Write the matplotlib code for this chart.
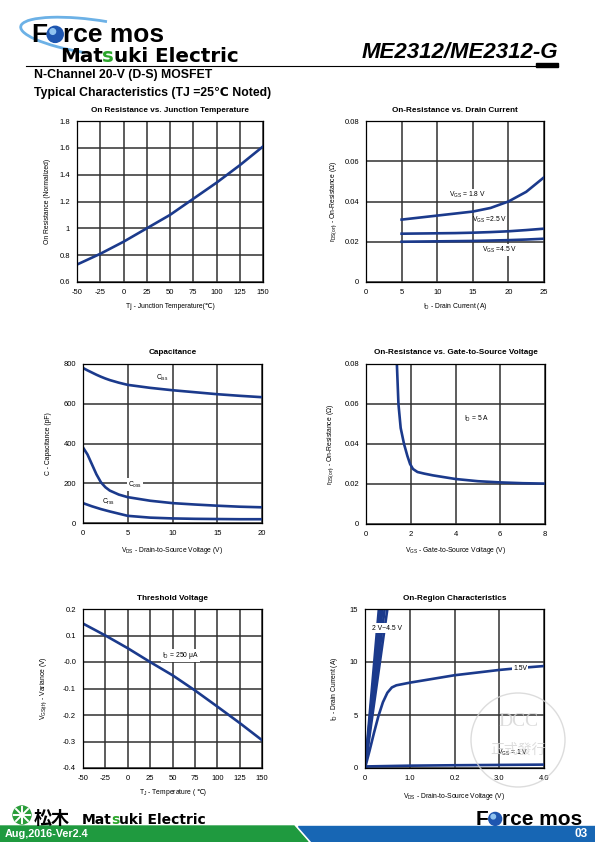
import matplotlib
matplotlib.use("Agg")
import matplotlib.pyplot as plt
from matplotlib.patches import Circle, Polygon, Arc, Rectangle

plt.rcParams['font.family'] = ['Liberation Sans', 'DejaVu Sans']
plt.rcParams['mathtext.fontset'] = 'custom'
plt.rcParams['mathtext.rm'] = 'Liberation Sans'
plt.rcParams['mathtext.it'] = 'Liberation Sans:italic'
plt.rcParams['mathtext.bf'] = 'Liberation Sans:bold'
plt.rcParams['axes.unicode_minus'] = False

W, H = 595, 842
NAVY = '#1b3a8c'
GRID = '#303030'
GREEN = '#1f9a3f'
BLUE = '#1766b4'

# --- datos leidos de la hoja ---
# 1) On resistance vs junction temperature
tj = [-50, -25, 0, 25, 50, 75, 100, 125, 150]
rn_tj = [0.73, 0.81, 0.90, 1.00, 1.10, 1.22, 1.34, 1.47, 1.61]

# 2) On-resistance vs drain current
id_a = [5, 7.5, 10, 12.5, 15, 17.5, 20, 22.5, 25]
rds_18 = [0.031, 0.032, 0.033, 0.034, 0.035, 0.0368, 0.040, 0.0448, 0.052]
rds_25 = [0.024, 0.0241, 0.0242, 0.0243, 0.0245, 0.0248, 0.0252, 0.0258, 0.0265]
rds_45 = [0.020, 0.0201, 0.0202, 0.0203, 0.0204, 0.0206, 0.0208, 0.0211, 0.0215]

# 3) Capacitance
vds_c = [0, 0.5, 1, 1.5, 2, 2.5, 3, 4, 5, 7.5, 10, 12.5, 15, 17.5, 20]
ciss = [780, 768, 757, 746, 736, 727, 719, 706, 695, 680, 668, 658, 648, 640, 633]
coss = [380, 345, 295, 245, 205, 180, 163, 143, 130, 112, 100, 93, 87, 82, 79]
crss = [100, 92, 84, 77, 70, 64, 58, 47, 36, 27, 23, 21, 20, 19, 19]

# 4) On-resistance vs gate-to-source voltage
vgs = [1.36, 1.38, 1.45, 1.55, 1.70, 1.85, 1.97, 2.1, 2.3, 2.6, 3.0, 4, 5, 6, 7, 8]
rds_vgs = [0.085, 0.080, 0.060, 0.048, 0.040, 0.034, 0.030, 0.0275, 0.026,
           0.0252, 0.0243, 0.0225, 0.0214, 0.0208, 0.0204, 0.0202]

# 5) Threshold voltage
tj_th = [-50, -25, 0, 25, 50, 75, 100, 125, 150]
vth = [0.145, 0.10, 0.052, 0.0, -0.05, -0.107, -0.168, -0.23, -0.295]

# 6) On-region characteristics
vds_band = [0.31, 0.35, 0.39, 0.44, 0.50]     # Vds at 15 A, VGS 4.5 .. 2 V
id_band = [0, 15]
vds_15 = [0, 0.1, 0.2, 0.3, 0.4, 0.5, 0.6, 0.7, 1.0, 1.5, 2.0, 2.5, 3.0, 3.5, 4.0]
id_15 = [0, 1.6, 3.3, 4.9, 6.2, 7.1, 7.6, 7.8, 8.05, 8.4, 8.75, 9.0, 9.25, 9.45, 9.62]
vds_1 = [0, 0.05, 1, 2, 3, 4]
id_1 = [0, 0.15, 0.22, 0.26, 0.29, 0.32]

fig = plt.figure(figsize=(W / 100, H / 100), dpi=100)
bg = fig.add_axes([0, 0, 1, 1])
bg.set_xlim(0, W)
bg.set_ylim(H, 0)
bg.axis('off')
renderer = fig.canvas.get_renderer()


def chain(x, y, parts, size, gap=0.0, **kw):
    """Texto en piezas consecutivas (para colorear letras sueltas)."""
    boxes = []
    for s, c in parts:
        t = bg.text(x, y, s, fontsize=size, color=c, va='baseline', ha='left', **kw)
        bb = t.get_window_extent(renderer)
        boxes.append((x, bb.width, bb.height))
        x += bb.width + gap
    return boxes


def chain_center(xc, y, parts, size):
    """Piezas de texto centradas en xc (mathtext + texto normal)."""
    texts = [bg.text(0, y, s, fontsize=size, va='center', ha='left') for s in parts]
    widths = [t.get_window_extent(renderer).width for t in texts]
    x = xc - sum(widths) / 2
    for t, w in zip(texts, widths):
        t.set_x(x)
        x += w


def logo_force(x, y, size):
    b = chain(x, y, [("F", "black"), ("o", "white"), ("rce mos", "black")], size,
              fontweight='bold')
    ox, ow, oh = b[1]
    r = ow * 0.5
    bg.add_patch(Circle((ox + ow / 2, y - r * 0.95), r, color='#1e56b0', zorder=3))
    bg.add_patch(Circle((ox + ow / 2 - r * 0.3, y - r * 1.3), r * 0.35,
                        color='#8fc3f0', zorder=4))


matsuki = [("Mat", "black"), ("s", "#2aa52a"), ("uki Electric", "black")]

# --- cabecera ---
bg.add_patch(Arc((95, 37), 150, 34, angle=8, theta1=115, theta2=300,
                 color='#6cb1e6', lw=2.0))
logo_force(31, 42, 19)
chain(60, 62, matsuki, 14.3, gap=-0.5, fontweight='bold', family=['DejaVu Sans'])
bg.plot([26, 558], [66, 66], color='black', lw=0.8)
bg.text(558, 58, "ME2312/ME2312-G", ha='right', va='baseline', fontsize=16,
        fontweight='bold', fontstyle='italic')
bg.add_patch(Rectangle((536, 63), 22, 4, color='black'))
bg.text(34, 75, "N-Channel 20-V (D-S) MOSFET", fontsize=8.8, fontweight='bold', va='center')
bg.text(34, 93, "Typical Characteristics (TJ =25\u2103 Noted)", fontsize=8.8,
        fontweight='bold', va='center')

# --- pie de pagina ---
bg.add_patch(Polygon([(0, 826), (294, 826), (308, 842), (0, 842)], color=GREEN))
bg.add_patch(Polygon([(298, 826), (595, 826), (595, 842), (312, 842)], color=BLUE))
bg.text(5, 834, "Aug,2016-Ver2.4", color='white', fontsize=7.8, fontweight='bold', va='center')
bg.text(588, 834, "03", color='white', fontsize=8.5, fontweight='bold', va='center', ha='right')
logo_force(476, 825, 15)
bg.add_patch(Circle((22, 815), 9, color='#2a9d3a'))
for dx, dy in [(8, 0), (0, 8), (6, 6), (6, -6)]:
    bg.plot([22 - dx, 22 + dx], [815 - dy, 815 + dy], color='white', lw=1.4)
bg.text(34, 824, "松木", family=['Noto Sans CJK JP'], fontsize=13, fontweight='bold', va='baseline')
chain(82, 824, matsuki, 10, gap=-0.4, fontweight='bold', family=['DejaVu Sans'])

TS = 5.5   # tick labels
LS = 4.9   # axis labels


def panel(x0, y0, x1, y1, title, xlabel, ylabel, xdy, ydx):
    ax = fig.add_axes([x0 / W, 1 - y1 / H, (x1 - x0) / W, (y1 - y0) / H])
    ax.grid(True, color=GRID, lw=1.1)
    ax.set_axisbelow(True)
    ax.tick_params(length=0, labelsize=TS, pad=5)
    for s in ax.spines.values():
        s.set_linewidth(0.9)
    w, h = x1 - x0, y1 - y0
    ax.text(0.5, 1 + 11 / h, title, transform=ax.transAxes, ha='center', va='center',
            fontsize=5.9, fontweight='bold')
    if xlabel is not None:
        ax.text(0.5, -xdy / h, xlabel, transform=ax.transAxes, ha='center', va='center',
                fontsize=LS)
    ax.text(-ydx / w, 0.5, ylabel, transform=ax.transAxes, ha='center', va='center',
            rotation=90, fontsize=LS)
    return ax


box = dict(facecolor='white', edgecolor='none', pad=0.8)
lw = 1.9

# 1
ax = panel(77, 121, 263, 282, "On Resistance vs. Junction Temperature",
           "Tj - Junction Temperature(\u2103)", "On Resistance (Normalized)", 25, 30)
ax.plot(tj, rn_tj, color=NAVY, lw=lw)
ax.set_xlim(-50, 150)
ax.set_ylim(0.6, 1.8)
ax.set_xticks(range(-50, 151, 25))
ax.set_yticks([0.6, 0.8, 1.0, 1.2, 1.4, 1.6, 1.8])
ax.set_yticklabels(['0.6', '0.8', '1', '1.2', '1.4', '1.6', '1.8'])

# 2
ax = panel(366, 121, 544, 282, "On-Resistance vs. Drain Current",
           r"I$_{\mathregular{D}}$ - Drain Current (A)",
           r"r$_{\mathregular{DS(on)}}$ - On-Resistance ($\Omega$)", 25, 32)
for r in (rds_18, rds_25, rds_45):
    ax.plot(id_a, r, color=NAVY, lw=lw)
ax.set_xlim(0, 25)
ax.set_ylim(0, 0.08)
ax.set_xticks(range(0, 26, 5))
ax.set_yticks([0, 0.02, 0.04, 0.06, 0.08])
ax.set_yticklabels(['0', '0.02', '0.04', '0.06', '0.08'])
ax.text(14.3, 0.0433, r"V$_{\mathregular{GS}}$ = 1.8 V", fontsize=LS, ha='center', va='center', bbox=box)
ax.text(17.4, 0.0308, r"V$_{\mathregular{GS}}$ =2.5 V", fontsize=LS, ha='center', va='center')
ax.text(18.8, 0.0160, r"V$_{\mathregular{GS}}$ =4.5 V", fontsize=LS, ha='center', va='center', bbox=box)

# 3
ax = panel(83, 364, 262, 523, "Capacitance",
           r"V$_{\mathregular{DS}}$ - Drain-to-Source Voltage (V)", "C - Capacitance (pF)", 27, 35)
for c in (ciss, coss, crss):
    ax.plot(vds_c, c, color=NAVY, lw=lw)
ax.set_xlim(0, 20)
ax.set_ylim(0, 800)
ax.set_xticks(range(0, 21, 5))
ax.set_yticks(range(0, 801, 200))
ax.text(8.9, 730, r"C$_{\mathregular{iss}}$", fontsize=LS, ha='center', va='center')
ax.text(5.8, 193, r"C$_{\mathregular{oss}}$", fontsize=LS, ha='center', va='center', bbox=box)
ax.text(2.8, 105, r"C$_{\mathregular{rss}}$", fontsize=LS, ha='center', va='center')

# 4
ax = panel(366, 364, 545, 524, "On-Resistance vs. Gate-to-Source Voltage",
           r"V$_{\mathregular{GS}}$ - Gate-to-Source Voltage (V)",
           r"r$_{\mathregular{DS(on)}}$ - On-Resistance ($\Omega$)", 27, 35)
ax.plot(vgs, rds_vgs, color=NAVY, lw=lw)
ax.set_xlim(0, 8)
ax.set_ylim(0, 0.08)
ax.set_xticks(range(0, 9, 2))
ax.set_yticks([0, 0.02, 0.04, 0.06, 0.08])
ax.set_yticklabels(['0', '0.02', '0.04', '0.06', '0.08'])
ax.text(4.96, 0.0524, r"I$_{\mathregular{D}}$ = 5 A", fontsize=LS, ha='center', va='center')

# 5
ax = panel(83, 609, 262, 768, "Threshold Voltage", None,
           r"V$_{\mathregular{GS(th)}}$ - Variance (V)", 25, 39)
chain_center(172.5, 793, [r"T$_{\mathregular{J}}$ - Temperature (", "\u2103)"], LS)
ax.plot(tj_th, vth, color=NAVY, lw=lw)
ax.set_xlim(-50, 150)
ax.set_ylim(-0.4, 0.2)
ax.set_xticks(range(-50, 151, 25))
ax.set_yticks([-0.4, -0.3, -0.2, -0.1, 0.0, 0.1, 0.2])
ax.set_yticklabels(['-0.4', '-0.3', '-0.2', '-0.1', '-0.0', '0.1', '0.2'])
ax.text(58.5, 0.024, r"I$_{\mathregular{D}}$ = 250 $\mathregular{\mu}$A", fontsize=LS,
        ha='center', va='center', bbox=box)

# 6
ax = panel(365, 609, 544, 768, "On-Region Characteristics",
           r"V$_{\mathregular{DS}}$ - Drain-to-Source Voltage (V)",
           r"I$_{\mathregular{D}}$ - Drain Current (A)", 29, 31)
for v in vds_band:
    ax.plot([0, v], id_band, color=NAVY, lw=lw)
ax.plot(vds_15, id_15, color=NAVY, lw=lw)
ax.plot(vds_1, id_1, color=NAVY, lw=lw)
ax.set_xlim(0, 4)
ax.set_ylim(0, 15)
ax.set_xticks([0, 1, 2, 3, 4])
ax.set_xticklabels(['0', '1.0', '0.2', '3.0', '4.0'])
ax.set_yticks([0, 5, 10, 15])
ax.text(0.49, 13.2, "2 V~4.5 V", fontsize=LS, ha='center', va='center', bbox=box)
ax.text(3.47, 9.4, "1.5V", fontsize=LS, ha='center', va='center', bbox=box)
ax.text(3.3, 1.45, r"V$_{\mathregular{GS}}$ = 1 V", fontsize=LS, ha='center', va='center')

# marca de agua
wm = fig.add_axes([0, 0, 1, 1])
wm.set_xlim(0, W)
wm.set_ylim(H, 0)
wm.axis('off')
wm.patch.set_alpha(0)
wm.add_patch(Circle((518, 740), 47, fill=False, ec='#d4d4d4', lw=1.0, alpha=0.8))
wm.text(518, 722, "DCC", family=['Liberation Serif'], fontsize=14, color='#d4d4d4',
        ha='center', va='center', alpha=0.8)
wm.text(518, 750, "正式發行", family=['Noto Sans CJK TC'], fontsize=10, color='#d4d4d4',
        ha='center', va='center', alpha=0.8)

fig.savefig("out.png", dpi=100)
